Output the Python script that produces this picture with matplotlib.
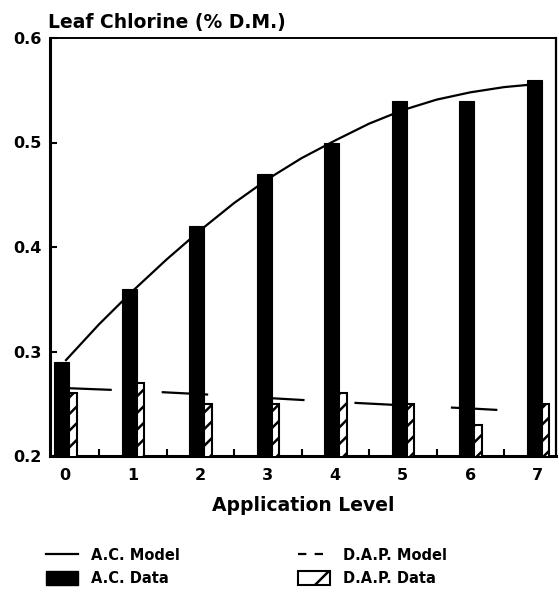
import matplotlib
matplotlib.use("Agg")
import matplotlib.pyplot as plt
from matplotlib.lines import Line2D
from matplotlib.patches import Patch
import numpy as np

plt.rcParams['font.family'] = ['DejaVu Sans']
plt.rcParams['font.weight'] = 'bold'
plt.rcParams['lines.scale_dashes'] = False
plt.rcParams['hatch.linewidth'] = 1.8

# Application levels and measured leaf chlorine (% dry matter)
levels = [0, 1, 2, 3, 4, 5, 6, 7]
ac_data = [0.29, 0.36, 0.42, 0.47, 0.50, 0.54, 0.54, 0.56]
dap_data = [0.26, 0.27, 0.25, 0.25, 0.26, 0.25, 0.23, 0.25]

# Fitted model curves
ac_model_x = [0, 0.5, 1, 1.5, 2, 2.5, 3, 3.5, 4, 4.5, 5, 5.5, 6, 6.5, 7]
ac_model_y = [0.291, 0.326, 0.358, 0.388, 0.416, 0.442, 0.465, 0.485,
              0.502, 0.518, 0.531, 0.541, 0.548, 0.553, 0.556]
dap_model_x = [0, 1, 2, 3, 4, 5, 6, 7]
dap_model_y = [0.265, 0.2625, 0.2592, 0.2555, 0.2518, 0.2485, 0.2455, 0.242]

y_ticks = [0.2, 0.3, 0.4, 0.5, 0.6]

fig = plt.figure(figsize=(5.59, 6.0), dpi=100)
ax = fig.add_axes([50 / 559, 1 - 456 / 600, 506 / 559, 418 / 600])

x = np.array(levels, dtype=float)
ac_w, dap_w = 0.222, 0.11
ax.bar(x - 0.163, ac_data, width=ac_w, align='edge', color='black',
       edgecolor='black', linewidth=0.8, zorder=3)
ax.bar(x + 0.059, dap_data, width=dap_w, align='edge', color='white',
       edgecolor='black', linewidth=1.5, hatch='//', zorder=3)

ax.plot(ac_model_x, ac_model_y, color='black', lw=1.6, zorder=2,
        solid_capstyle='butt')
ln, = ax.plot(dap_model_x, dap_model_y, color='black', lw=1.6, zorder=2)
ln.set_dashes((33.5, 36.0))
ln.set_dash_capstyle('butt')

ax.set_xlim(-0.226, 7.27)
ax.set_ylim(0.2, 0.6)
ax.set_yticks(y_ticks)
ax.set_yticklabels([f"{v:.1f}" for v in y_ticks])
ax.set_xticks(levels)
ax.set_xticklabels([str(v) for v in levels])
ax.set_xticks([v + 0.5 for v in levels[:-1]], minor=True)

ax.tick_params(axis='y', direction='in', length=5, width=1.5, pad=6,
               labelsize=11.5)
ax.tick_params(axis='x', which='major', length=0, pad=9, labelsize=11.5)
ax.tick_params(axis='x', which='minor', direction='in', length=5, width=1.5)
for lab in ax.get_xticklabels() + ax.get_yticklabels():
    lab.set_fontweight('bold')

for side, lw in [('left', 2.2), ('bottom', 2.2), ('right', 1.6), ('top', 1.4)]:
    ax.spines[side].set_linewidth(lw)

ax.set_xlabel('Application Level', fontsize=13.5, fontweight='bold', labelpad=9)

fig.text(48 / 559, 1 - 28 / 600, 'Leaf Chlorine (% D.M.)', fontsize=13.5,
         fontweight='bold', ha='left', va='baseline')

# Legend: two columns below the axis
h_ac_model = Line2D([], [], color='black', lw=1.6)
h_ac_data = Patch(facecolor='black', edgecolor='black')
h_dap_model = Line2D([], [], color='black', lw=1.6, dashes=(6, 6))
h_dap_data = Patch(facecolor='white', edgecolor='black', hatch='/', linewidth=1.5)

common = dict(frameon=False, handlelength=2.2,
              handleheight=1.1, handletextpad=0.9, labelspacing=0.55,
              borderaxespad=0, borderpad=0, prop={'weight': 'bold', 'size': 10.5})
leg1 = fig.legend([h_ac_model, h_ac_data], ['A.C. Model', 'A.C. Data'],
                  loc='upper left', bbox_to_anchor=(46 / 559, 1 - 548 / 600),
                  **common)
leg2 = fig.legend([h_dap_model, h_dap_data], ['D.A.P. Model', 'D.A.P. Data'],
                  loc='upper left', bbox_to_anchor=(298 / 559, 1 - 548 / 600),
                  **common)

fig.savefig('out.png', dpi=100)
